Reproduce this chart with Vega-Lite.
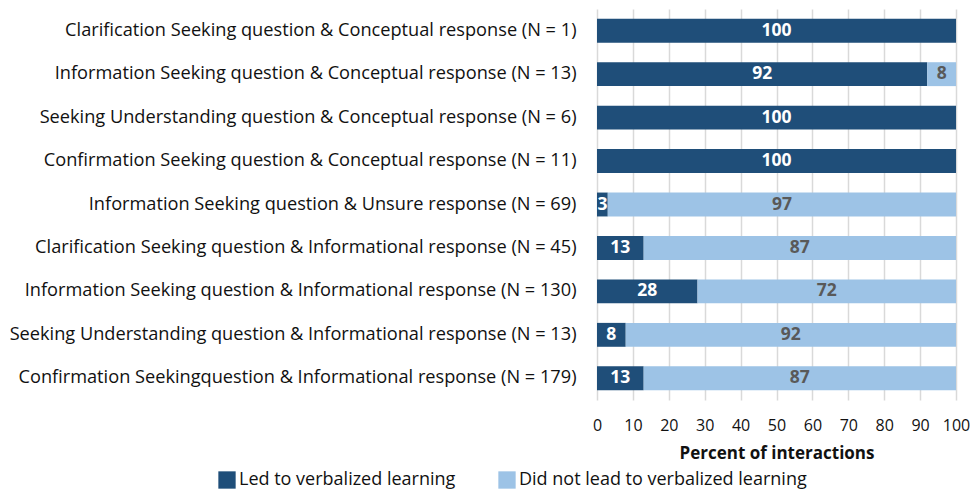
{
  "$schema": "https://vega.github.io/schema/vega-lite/v6.json",
  "autosize": {"type": "none"},
  "width": 359,
  "height": 391,
  "padding": {"left": 597, "top": 9, "right": 17, "bottom": 92},
  "background": "white",
  "config": {
    "font": "Open Sans",
    "view": {"stroke": null}
  },
  "data": {
    "values": [
      {"cat": "Clarification Seeking question & Conceptual response (N = 1)", "grp": "Led to verbalized learning", "k": 1, "v": 100},
      {"cat": "Clarification Seeking question & Conceptual response (N = 1)", "grp": "Did not lead to verbalized learning", "k": 2, "v": 0},
      {"cat": "Information Seeking question & Conceptual response (N = 13)", "grp": "Led to verbalized learning", "k": 1, "v": 92},
      {"cat": "Information Seeking question & Conceptual response (N = 13)", "grp": "Did not lead to verbalized learning", "k": 2, "v": 8},
      {"cat": "Seeking Understanding question & Conceptual response (N = 6)", "grp": "Led to verbalized learning", "k": 1, "v": 100},
      {"cat": "Seeking Understanding question & Conceptual response (N = 6)", "grp": "Did not lead to verbalized learning", "k": 2, "v": 0},
      {"cat": "Confirmation Seeking question & Conceptual response (N = 11)", "grp": "Led to verbalized learning", "k": 1, "v": 100},
      {"cat": "Confirmation Seeking question & Conceptual response (N = 11)", "grp": "Did not lead to verbalized learning", "k": 2, "v": 0},
      {"cat": "Information Seeking question & Unsure response (N = 69)", "grp": "Led to verbalized learning", "k": 1, "v": 3},
      {"cat": "Information Seeking question & Unsure response (N = 69)", "grp": "Did not lead to verbalized learning", "k": 2, "v": 97},
      {"cat": "Clarification Seeking question & Informational response (N = 45)", "grp": "Led to verbalized learning", "k": 1, "v": 13},
      {"cat": "Clarification Seeking question & Informational response (N = 45)", "grp": "Did not lead to verbalized learning", "k": 2, "v": 87},
      {"cat": "Information Seeking question & Informational response (N = 130)", "grp": "Led to verbalized learning", "k": 1, "v": 28},
      {"cat": "Information Seeking question & Informational response (N = 130)", "grp": "Did not lead to verbalized learning", "k": 2, "v": 72},
      {"cat": "Seeking Understanding question & Informational response (N = 13)", "grp": "Led to verbalized learning", "k": 1, "v": 8},
      {"cat": "Seeking Understanding question & Informational response (N = 13)", "grp": "Did not lead to verbalized learning", "k": 2, "v": 92},
      {"cat": "Confirmation Seekingquestion & Informational response (N = 179)", "grp": "Led to verbalized learning", "k": 1, "v": 13},
      {"cat": "Confirmation Seekingquestion & Informational response (N = 179)", "grp": "Did not lead to verbalized learning", "k": 2, "v": 87}
    ]
  },
  "encoding": {
    "y": {
      "field": "cat", "type": "nominal", "sort": null, "title": null,
      "scale": {"paddingInner": 0.45, "paddingOuter": 0.225},
      "axis": {"domain": false, "ticks": false, "tickSize": 0, "grid": false, "labelPadding": 21, "labelFontSize": 18.2, "labelColor": "#111111", "labelLimit": 700}
    },
    "x": {
      "field": "v", "type": "quantitative", "stack": "zero",
      "scale": {"domain": [0, 100], "nice": false},
      "title": "Percent of interactions",
      "axis": {"values": [0,10,20,30,40,50,60,70,80,90,100], "labelOverlap": false, "labelFlush": false, "domain": false, "ticks": false, "tickSize": 0, "grid": true, "gridColor": "#d9d9d9", "gridWidth": 1.5, "labelPadding": 17, "labelFontSize": 16, "labelColor": "#111111", "titleFontSize": 17, "titleFontWeight": "bold", "titleColor": "#111111", "titlePadding": 12}
    },
    "order": {"field": "k", "type": "quantitative"}
  },
  "layer": [
    {
      "mark": {"type": "bar"},
      "encoding": {
        "color": {
          "field": "grp", "type": "nominal", "title": null,
          "scale": {"domain": ["Led to verbalized learning", "Did not lead to verbalized learning"], "range": ["#1f4e79", "#9dc3e6"]},
          "legend": {"orient": "none", "legendX": -379, "legendY": 462, "direction": "horizontal", "labelFontSize": 18, "labelColor": "#111111", "symbolType": "square", "symbolSize": 300, "symbolStrokeWidth": 0, "symbolOpacity": 1, "columnPadding": 42, "labelOffset": 3, "labelLimit": 400}
        }
      }
    },
    {
      "transform": [{"filter": "datum.v > 0"}],
      "mark": {"type": "text", "fontWeight": "bold", "fontSize": 17.5, "baseline": "middle", "align": "center"},
      "encoding": {
        "x": {"field": "v", "type": "quantitative", "stack": "zero", "bandPosition": 0.5},
        "text": {"field": "v", "type": "quantitative"},
        "color": {
          "condition": {"test": "datum.k == 1", "value": "white"},
          "value": "#595959"
        }
      }
    }
  ]
}
